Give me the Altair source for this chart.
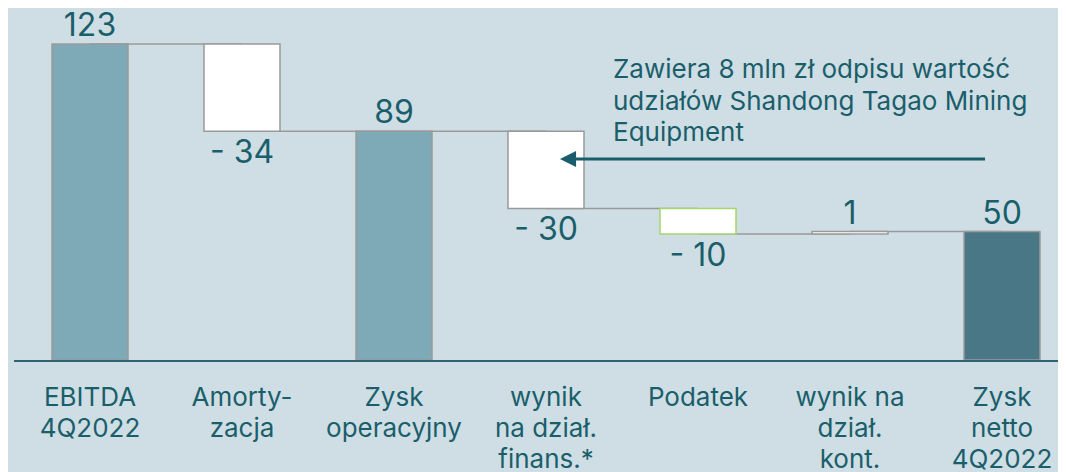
import altair as alt
import pandas as pd

# ---- data ----
categories = ["EBITDA|4Q2022", "Amorty-|zacja", "Zysk|operacyjny", "wynik|na dział.|finans.*",
              "Podatek", "wynik na|dział.|kont.", "Zysk|netto|4Q2022"]
values = [123, -34, 89, -30, -10, 1, 50]
kinds = ["total", "delta", "total", "delta", "delta", "delta", "total"]
value_labels = ["123", "- 34", "89", "- 30", "- 10", "1", "50"]
roles = ["subtotal", "decrease", "subtotal", "decrease", "tax", "change", "final"]
note = "Zawiera 8 mln zł odpisu wartość|udziałów Shandong Tagao Mining|Equipment"

rows = []
running = 0
for i, (c, v, k, lab, r) in enumerate(zip(categories, values, kinds, value_labels, roles)):
    if k == "total":
        start, end = 0, v
    else:
        start, end = running, running + v
    running = end
    rows.append(dict(cat=c, start=start, end=end, label=lab, role=r,
                     top=max(start, end), bottom=min(start, end),
                     pos="below" if v < 0 else "above",
                     nxt=categories[i + 1] if i + 1 < len(categories) else None))
df = pd.DataFrame(rows)

TEXT = "#1B5E6B"
FONT = "Inter"

xscale = alt.Scale(domain=categories, paddingInner=0.5, paddingOuter=0.1184)
yscale = alt.Scale(domain=[0, 137], nice=False, zero=True)

base = alt.Chart(df)

connectors = base.transform_filter("datum.nxt != null").mark_rule(
    color="#9A9A9A", strokeWidth=1.5
).encode(
    x=alt.X("cat:N", scale=xscale, sort=categories,
            axis=alt.Axis(title=None, domain=False, ticks=False, tickSize=0,
                          labelExpr="split(datum.label, '|')",
                          labelFontSize=26, labelFont=FONT, labelColor=TEXT,
                          labelLineHeight=31, labelPadding=24, labelAngle=0,
                          labelBaseline="top", labelAlign="center")),
    x2="nxt:N",
    y=alt.Y("end:Q", scale=yscale, axis=None),
)

bars = base.mark_bar(strokeWidth=1.5).encode(
    x=alt.X("cat:N", scale=xscale, sort=categories),
    y=alt.Y("start:Q", scale=yscale, axis=None),
    y2="end:Q",
    fill=alt.Fill("role:N", legend=None, scale=alt.Scale(
        domain=["subtotal", "decrease", "tax", "change", "final"],
        range=["#7EAAB8", "#FFFFFF", "#FFFFFF", "#FFFFFF", "#4A7785"])),
    stroke=alt.Stroke("role:N", legend=None, scale=alt.Scale(
        domain=["subtotal", "decrease", "tax", "change", "final"],
        range=["#9A9A9A", "#9A9A9A", "#A6D66E", "#9A9A9A", "#9A9A9A"])),
)

above = base.transform_filter("datum.pos == 'above'").mark_text(
    font=FONT, fontSize=32, color=TEXT, dy=-8, baseline="alphabetic"
).encode(
    x=alt.X("cat:N", scale=xscale, sort=categories),
    y=alt.Y("top:Q", scale=yscale, axis=None),
    text="label:N",
)

below = base.transform_filter("datum.pos == 'below'").mark_text(
    font=FONT, fontSize=32, color=TEXT, dy=32, baseline="alphabetic"
).encode(
    x=alt.X("cat:N", scale=xscale, sort=categories),
    y=alt.Y("bottom:Q", scale=yscale, axis=None),
    text="label:N",
)

axis_line = alt.Chart(pd.DataFrame({"v": [0]})).mark_rule(
    color="#2E6372", strokeWidth=2
).encode(
    y=alt.value(353), x=alt.value(-20), x2=alt.value(1024)
)

note_text = alt.Chart(pd.DataFrame({"t": [note]})).mark_text(
    font=FONT, fontSize=26, color=TEXT, align="left", baseline="alphabetic",
    lineBreak="|", lineHeight=31.5
).encode(
    x=alt.value(579), y=alt.value(70), text="t:N"
)

arrow_line = alt.Chart(pd.DataFrame({"v": [0]})).mark_rule(
    color=TEXT, strokeWidth=3
).encode(
    y=alt.value(151), x=alt.value(537), x2=alt.value(951)
)

arrow_head = alt.Chart(pd.DataFrame({"v": [0]})).mark_point(
    shape="M -1 0 L 1 -1 L 1 1 Z", size=260, filled=True, color=TEXT, opacity=1
).encode(
    x=alt.value(534), y=alt.value(151)
)

chart = alt.layer(
    connectors, bars, above, below, axis_line, note_text, arrow_line, arrow_head
).properties(
    width=1024, height=352,
    autosize=alt.AutoSizeParams(type="none"),
    padding={"left": 26, "top": 0, "right": 0, "bottom": 112},
    background="#CEDEE4",
).configure_view(stroke=None)

chart.save("out.html", embed_options={"renderer": "svg", "actions": False})
